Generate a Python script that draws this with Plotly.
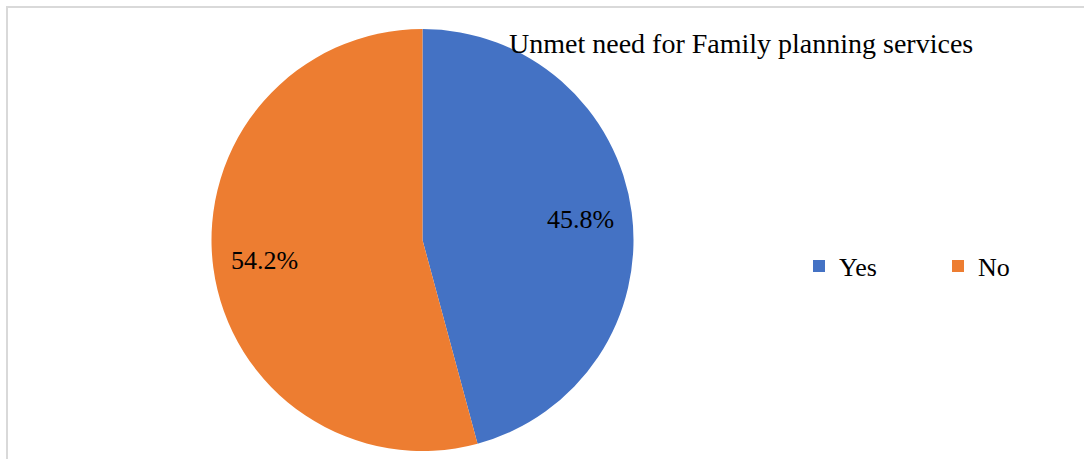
import math
import plotly.graph_objects as go

# Survey responses: unmet need for family planning services
categories = ["Yes", "No"]
shares = [45.8, 54.2]
colors = ["#4472C4", "#ED7D31"]
title_text = "Unmet need for Family planning services"

W, H = 1084, 459
FONT = "Liberation Serif"

# pie placement in pixels (center and radius)
cx, cy, R = 422.5, 240, 211

fig = go.Figure(
    go.Pie(
        labels=categories,
        values=shares,
        marker=dict(colors=colors, line=dict(width=0)),
        sort=False,
        direction="clockwise",
        rotation=0,
        textinfo="none",
        hoverinfo="label+percent",
        domain=dict(x=[(cx - R) / W, (cx + R) / W], y=[1 - (cy + R) / H, 1 - (cy - R) / H]),
    )
)

# percentage labels placed along each slice's bisector
annotations = []
total = sum(shares)
start = 90.0
for cat, v in zip(categories, shares):
    sweep = v / total * 360
    mid = math.radians(start - sweep / 2)
    start -= sweep
    px = cx + 0.755 * R * math.cos(mid)
    py = cy - 0.755 * R * math.sin(mid)
    annotations.append(dict(
        x=px / W, y=1 - py / H, xref="paper", yref="paper",
        text=f"{v:.1f}%", showarrow=False,
        xanchor="center", yanchor="middle",
        font=dict(family=FONT, size=26, color="#000000"),
    ))

annotations.append(dict(
    x=507 / W, y=1 - 44 / H, xref="paper", yref="paper",
    text=title_text, showarrow=False, xanchor="left", yanchor="middle",
    font=dict(family=FONT, size=28, color="#000000"),
))

fig.update_layout(
    width=W, height=H,
    margin=dict(l=0, r=0, t=0, b=0),
    paper_bgcolor="white",
    plot_bgcolor="white",
    annotations=annotations,
    showlegend=True,
    legend=dict(
        orientation="h",
        x=799 / W, y=1 - 266 / H, xanchor="left", yanchor="middle",
        font=dict(family=FONT, size=26, color="#000000"),
        entrywidth=94, entrywidthmode="pixels",
        bgcolor="rgba(0,0,0,0)",
    ),
    shapes=[dict(
        type="rect", xref="paper", yref="paper",
        x0=7 / W, x1=1.05, y0=-0.05, y1=1 - 7 / H,
        line=dict(color="#D9D9D9", width=2),
        fillcolor="rgba(0,0,0,0)",
    )],
)

fig.write_html("out.html")
